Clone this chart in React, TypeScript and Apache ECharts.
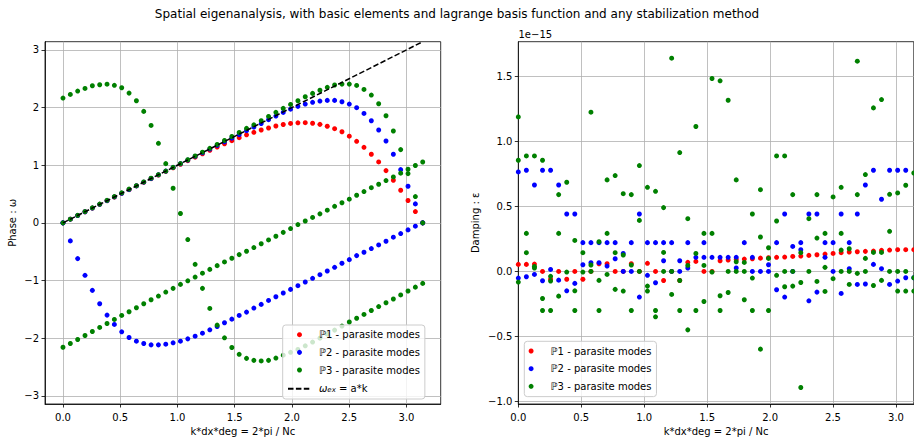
import React, { useEffect, useRef } from "react";
import * as echarts from "echarts";

// ---------- data ----------
const N_K = 50;
const K_MAX = Math.PI;
const kGrid: number[] = Array.from({ length: N_K }, (_, i) => (i * K_MAX) / (N_K - 1));

const P1_NAME = "ℙ1 - parasite modes";
const P2_NAME = "ℙ2 - parasite modes";
const P3_NAME = "ℙ3 - parasite modes";
const EXACT_NAME = "omega_ex = a*k";
const A_COEF = 1;
const exactK = [0, K_MAX];

// Phase (left panel), one value per k for each branch
const phaseP1 = [
  0, 0.064, 0.128, 0.192, 0.256, 0.32, 0.384, 0.448, 0.512, 0.576,
  0.64, 0.703, 0.766, 0.829, 0.892, 0.954, 1.016, 1.078, 1.139, 1.199,
  1.258, 1.316, 1.372, 1.425, 1.477, 1.527, 1.57, 1.61, 1.645, 1.68,
  1.706, 1.724, 1.735, 1.737, 1.727, 1.708, 1.675, 1.633, 1.58, 1.503,
  1.414, 1.31, 1.19, 1.056, 0.906, 0.739, 0.565, 0.387, 0.196, 0,
];
const phaseP2Upper = [
  0, 0.064, 0.128, 0.192, 0.256, 0.321, 0.385, 0.449, 0.513, 0.577,
  0.641, 0.705, 0.769, 0.833, 0.897, 0.961, 1.025, 1.089, 1.152, 1.216,
  1.28, 1.343, 1.406, 1.468, 1.53, 1.598, 1.662, 1.722, 1.79, 1.852,
  1.915, 1.972, 2.02, 2.06, 2.09, 2.112, 2.124, 2.124, 2.1, 2.06,
  1.997, 1.898, 1.77, 1.61, 1.42, 1.19, 0.923, 0.635, 0.329, 0,
];
const phaseP2Lower = [
  0, -0.313, -0.62, -0.91, -1.171, -1.403, -1.6, -1.762, -1.89, -1.988,
  -2.052, -2.093, -2.116, -2.116, -2.104, -2.081, -2.052, -2.012, -1.965, -1.913,
  -1.855, -1.797, -1.733, -1.67, -1.606, -1.548, -1.478, -1.414, -1.345, -1.281,
  -1.217, -1.154, -1.09, -1.026, -0.962, -0.899, -0.835, -0.771, -0.701, -0.638,
  -0.568, -0.51, -0.446, -0.383, -0.319, -0.249, -0.186, -0.122, -0.058, 0,
];
const phaseP3Physical = [
  0, 0.064, 0.13, 0.195, 0.26, 0.325, 0.39, 0.455, 0.52, 0.585,
  0.645, 0.71, 0.775, 0.835, 0.898, 0.962, 1.028, 1.094, 1.16, 1.226,
  1.293, 1.36, 1.428, 1.497, 1.567, 1.638, 1.7, 1.77, 1.846, 1.916,
  1.985, 2.054, 2.118, 2.187, 2.245, 2.3, 2.35, 2.39, 2.406, 2.406,
  2.383, 2.314, 2.216, 2.066, 1.858, 1.593, 1.27, 0.854, 0.456, 0,
];
const phaseP3Bent = [
  2.164, 2.227, 2.285, 2.331, 2.377, 2.395, 2.405, 2.385, 2.343, 2.25,
  2.118, 1.933, 1.69, 1.379, 1.027, 0.6, 0.162, -0.29, -0.719, -1.136,
  -1.484, -1.774, -1.994, -2.162, -2.28, -2.35, -2.385, -2.395, -2.385, -2.345,
  -2.295, -2.245, -2.195, -2.133, -2.068, -2.0, -1.93, -1.86, -1.79, -1.72,
  -1.655, -1.588, -1.52, -1.452, -1.386, -1.32, -1.25, -1.182, -1.115, -1.05,
];
const phaseP3Linear = [
  -2.157, -2.093, -2.023, -1.954, -1.884, -1.814, -1.745, -1.675, -1.606, -1.542,
  -1.472, -1.403, -1.333, -1.27, -1.2, -1.136, -1.067, -1.005, -0.94, -0.873,
  -0.807, -0.742, -0.678, -0.614, -0.551, -0.493, -0.429, -0.362, -0.296, -0.232,
  -0.165, -0.099, -0.03, 0.032, 0.094, 0.156, 0.22, 0.287, 0.348, 0.41,
  0.479, 0.542, 0.61, 0.669, 0.733, 0.796, 0.862, 0.93, 0.995, 1.055,
];

// Damping (right panel), values in units of 1e-15, list of values per k
const dampP1 = [
  [0.054], [0.054], [0.056], [0], [-0.06], [0], [-0.06], [0], [-0.06], [0],
  [0.059], [0.059], [0], [0], [0.059], [0], [0.062], [0], [-0.07], [0],
  [-0.07], [0.07], [0.077], [0], [0], [0.082], [0.087], [0.092], [0.095], [0.097],
  [0.102], [0.105], [0.108], [0.11], [0.115], [0.118], [0.123], [0.128], [0.133], [0.138],
  [0.144], [0.149], [0.151], [0.154], [0.156], [0.162], [0.164], [0.167], [0.167], [0.167],
];
const dampP2 = [
  [0.764, -0.051], [0.777, -0.041], [0.664, -0.023], [0.777, -0.072], [0.777, 0.015],
  [0.664, -0.067], [0.441, -0.149], [0.441, -0.092], [0.221, 0.051], [0.221, 0.067],
  [0.221, 0.067], [0.221, 0.041], [0.221, 0.097], [0.138, 0], [0.221, 0],
  [0.441, -0.197], [0.221, -0.03], [0.221, -0.087], [0.221, 0.082], [0.221, 0],
  [0.082, 0], [0.221, 0.026], [0.108], [0.221, 0.108], [0.108],
  [0.108], [0.108], [0.108, 0.026], [0.221], [0.108, 0],
  [0], [0.051, 0], [0.221, -0.141], [0.441, -0.197], [0.192, 0],
  [0.221, 0.167], [0.441, -0.226], [0.441, -0.159], [0.221, 0.108], [0.221, 0],
  [0.441, -0.169], [0.221, 0.021], [0.441, -0.1], [0.664, -0.097], [0.777, 0.054],
  [0.554, 0.021], [0.777, -0.1], [0.777, -0.074], [0.777, -0.049], [-0.049],
];
const dampP3 = [
  [1.187, 0.854, -0.082], [0.887, 0.292, 0.144], [0.887, 0.038, 0.026], [0.854, -0.208, -0.3], [-0.038, -0.074, -0.3],
  [0.59, 0.292, -0.19], [0.685, -0.005], [0.238, -0.149, -0.3], [0.144, -0.005], [1.223, 0.049, 0],
  [0.228, -0.069, -0.3], [0.703, 0.292, -0.023], [0.736, 0.144, -0.138], [0.597, 0.126, -0.151], [0.59, 0.049, -0.3],
  [0.813, 0.392, 0], [0.646, -0.113, -0.151], [0.615, -0.3, -0.349], [0.49, 0.146, 0], [1.638, 0, -0.177],
  [0.913, -0.07, -0.3], [0.405, 0.046, -0.449], [1.113, 0.138, -0.3], [0.292, 0.046, -0.231], [1.482, 0.292, -0.005],
  [1.464, -0.187, -0.3], [1.315, 0, -0.162], [0.703, 0.074, 0], [0.069, 0, -0.218], [0.441, -0.051, -0.3],
  [0.628, 0.264, -0.597], [0.182, 0.1, -0.3], [0.887, 0.387, -0.03], [0.887, 0, -0.118], [0.59, 0, -0.113],
  [0.144, -0.085, -0.892], [0.405, 0], [0.59, 0.256, -0.077], [0.292, 0.031, -0.154], [0.572, -0.056],
  [0.646, 0.292, 0.164, 0], [0.174, -0.1, 0], [1.615, 0.59, -0.015], [0.744, 0.1, 0], [1.256, 0.146, -0.108],
  [1.32, 0.146, -0.069], [0.592, 0.308, 0], [0.603, 0, -0.151], [0.662, 0, -0.151], [0.756, -0.049, -0.151],
];

const xTicks = [0, 0.5, 1, 1.5, 2, 2.5, 3];
const phaseTicks = [-3, -2, -1, 0, 1, 2, 3];
const dampTicks = [-1, -0.5, 0, 0.5, 1, 1.5];
const PHASE_RANGE = [-Math.PI, Math.PI];
const DAMP_RANGE = [-1.0185, 1.7645];

// ---------- helpers ----------
const FONT = "DejaVu Sans";
const branchesToPairs = (branches: number[][]) =>
  branches.flatMap((b) => b.map((v, i) => [kGrid[i], v]));
const listsToPairs = (lists: number[][]) =>
  lists.flatMap((vals, i) => vals.map((v) => [kGrid[i], v]));
const minus = (s: string) => s.replace("-", "\u2212");

const axisLineStyle = { color: "#000", width: 0.8 };
const gridLineStyle = { color: "#b0b0b0", width: 0.8 };

function makeAxis(extra: any, ticks: number[], fmt: (v: number) => string, margin: number) {
  return {
    type: "value",
    axisLine: { show: true, onZero: false, lineStyle: axisLineStyle },
    axisTick: { show: true, inside: false, length: 3.5, customValues: ticks, lineStyle: axisLineStyle },
    axisLabel: {
      customValues: ticks,
      formatter: (v: number) => minus(fmt(v)),
      color: "#000",
      fontSize: 10,
      fontFamily: FONT,
      margin,
    },
    splitLine: { show: true, lineStyle: gridLineStyle },
    nameLocation: "middle",
    nameTextStyle: { fontSize: 10, fontFamily: FONT, color: "#000" },
    ...extra,
  };
}

const scatter = (name: string, color: string, data: number[][], idx: number) => ({
  type: "scatter",
  name,
  xAxisIndex: idx,
  yAxisIndex: idx,
  data,
  symbol: "circle",
  symbolSize: 5,
  itemStyle: { color, opacity: 1 },
  silent: true,
  emphasis: { disabled: true },
});

const legendBase = {
  orient: "vertical",
  padding: [4.7, 5, 5.3, 4.3],
  itemWidth: 23,
  itemHeight: 5,
  itemGap: 7.67,
  backgroundColor: "rgba(255,255,255,0.8)",
  borderColor: "#cccccc",
  borderWidth: 1,
  borderRadius: 3,
  selectedMode: false,
  textStyle: {
    fontSize: 10,
    fontFamily: FONT,
    color: "#000",
    lineHeight: 10,
    padding: [0, 0, 0, 3],
    rich: {
      w: { fontSize: 10, fontFamily: FONT, fontStyle: "italic", color: "#000", lineHeight: 10 },
      s: { fontSize: 7, fontFamily: FONT, fontStyle: "italic", color: "#000", lineHeight: 7, verticalAlign: "bottom", padding: [4, 0, 0, 0] },
    },
  },
  formatter: (n: string) => (n === EXACT_NAME ? "{w|ω}{s|ex} = a*k" : n),
};

function buildOption() {
  const gridBase = {
    top: 41.7,
    height: 362.3,
    show: true,
    borderColor: "#000",
    borderWidth: 0.8,
    backgroundColor: "transparent",
    containLabel: false,
    outerBoundsMode: "none",
  };
  return {
    animation: false,
    backgroundColor: "#fff",
    textStyle: { fontFamily: FONT },
    title: {
      text: "Spatial eigenanalysis, with basic elements and lagrange basis function and any stabilization method",
      left: "center",
      top: 8,
      padding: 0,
      textStyle: { fontSize: 12, fontWeight: "normal", color: "#000", fontFamily: FONT },
    },
    grid: [
      { ...gridBase, left: 45, width: 395.7 },
      { ...gridBase, left: 518.3, width: 395.5 },
    ],
    xAxis: [
      makeAxis(
        { gridIndex: 0, min: -0.05 * K_MAX, max: 1.05 * K_MAX, name: "k*dx*deg = 2*pi / Nc", nameGap: 21 },
        xTicks,
        (v) => v.toFixed(1),
        8
      ),
      makeAxis(
        { gridIndex: 1, min: 0, max: K_MAX, name: "k*dx*deg = 2*pi / Nc", nameGap: 21 },
        xTicks,
        (v) => v.toFixed(1),
        8
      ),
    ],
    yAxis: [
      makeAxis(
        { gridIndex: 0, min: PHASE_RANGE[0], max: PHASE_RANGE[1], name: "Phase : ω", nameGap: 28 },
        phaseTicks,
        (v) => String(v),
        6
      ),
      makeAxis(
        { gridIndex: 1, min: DAMP_RANGE[0], max: DAMP_RANGE[1], name: "Damping : ε", nameGap: 38 },
        dampTicks,
        (v) => v.toFixed(1),
        6
      ),
    ],
    legend: [
      {
        ...legendBase,
        left: 282.7,
        top: 325,
        data: [
          { name: P1_NAME, icon: "circle" },
          { name: P2_NAME, icon: "circle" },
          { name: P3_NAME, icon: "circle" },
          { name: EXACT_NAME, itemStyle: { opacity: 0 } },
        ],
      },
      {
        ...legendBase,
        left: 524.3,
        top: 341.3,
        data: [
          { name: P1_NAME, icon: "circle" },
          { name: P2_NAME, icon: "circle" },
          { name: P3_NAME, icon: "circle" },
        ],
      },
    ],
    graphic: [
      {
        type: "text",
        left: 518.5,
        top: 29.5,
        silent: true,
        style: { text: "1e\u221215", fontSize: 10, fontFamily: FONT, fill: "#000" },
      },
    ],
    series: [
      scatter(P1_NAME, "#ff0000", branchesToPairs([phaseP1]), 0),
      scatter(P2_NAME, "#0000ff", branchesToPairs([phaseP2Upper, phaseP2Lower]), 0),
      scatter(P3_NAME, "#008000", branchesToPairs([phaseP3Physical, phaseP3Bent, phaseP3Linear]), 0),
      {
        type: "line",
        name: EXACT_NAME,
        xAxisIndex: 0,
        yAxisIndex: 0,
        data: exactK.map((k) => [k, A_COEF * k]),
        symbol: "none",
        showSymbol: false,
        silent: true,
        itemStyle: { color: "#000" },
        lineStyle: { color: "#000", width: 1.5, type: [5.5, 2.4] },
        emphasis: { disabled: true },
      },
      scatter(P1_NAME, "#ff0000", listsToPairs(dampP1), 1),
      scatter(P2_NAME, "#0000ff", listsToPairs(dampP2), 1),
      scatter(P3_NAME, "#008000", listsToPairs(dampP3), 1),
    ],
  };
}

export default function App() {
  const ref = useRef<HTMLDivElement>(null);
  useEffect(() => {
    document.body.style.margin = "0";
    const chart = echarts.init(ref.current!, null, { renderer: "svg" });
    chart.setOption(buildOption() as any);
    return () => chart.dispose();
  }, []);
  return (
    <div
      ref={ref}
      style={{ position: "absolute", left: 0, top: 0, width: 914, height: 441, background: "#fff" }}
    />
  );
}
